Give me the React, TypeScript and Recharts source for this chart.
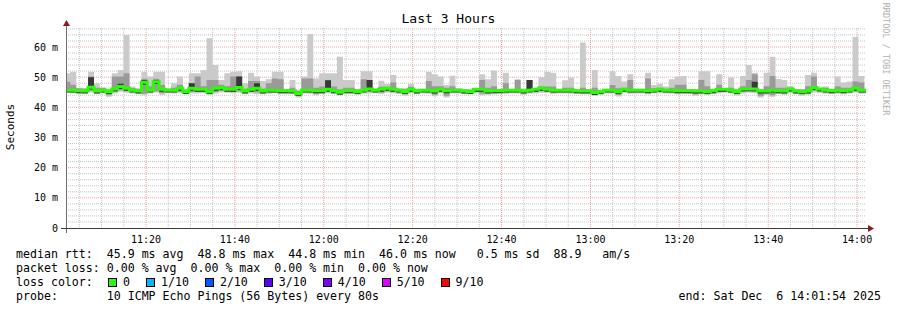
import React from 'react';
import { ComposedChart, Area, Line, XAxis, YAxis, CartesianGrid } from 'recharts';

const MONO = "'DejaVu Sans Mono', monospace";

// time axis, minutes after 11:00; one rrd step = 80 s
const T_START = 2;
const T_END = 182;
const FIRST_STEP = 1.63;
const STEP = 80 / 60;

// median rtt per step (ms)
const MEDIAN = [
  45.7, 45.7, 45.5, 45.4, 46.7, 45.4, 45.7, 45.2, 46.1, 46.9,
  46.3, 45.7, 45.4, 48.3, 45.7, 48.5, 46.0, 45.7, 45.7, 46.3,
  45.2, 46.3, 46.0, 46.0, 45.2, 46.3, 46.6, 46.0, 46.0, 46.6,
  45.4, 46.0, 46.3, 45.4, 45.7, 45.7, 45.5, 45.5, 45.4, 44.6,
  45.7, 45.7, 45.5, 45.5, 46.0, 45.5, 45.0, 45.5, 45.5, 45.2,
  45.7, 46.1, 45.7, 46.0, 46.3, 46.0, 45.7, 45.2, 46.0, 45.4,
  45.7, 45.7, 45.4, 46.0, 45.5, 45.7, 45.7, 45.4, 45.2, 46.0,
  46.0, 45.4, 45.5, 45.5, 45.7, 45.7, 45.7, 45.4, 45.7, 46.0,
  46.3, 46.0, 45.7, 45.7, 45.7, 45.7, 45.5, 45.4, 45.4, 44.9,
  45.2, 45.7, 45.7, 45.2, 46.0, 45.7, 45.7, 45.7, 45.5, 45.7,
  46.0, 45.7, 45.7, 45.5, 45.5, 45.5, 45.4, 45.4, 45.2, 45.5,
  46.0, 46.0, 45.7, 45.2, 46.1, 46.1, 46.1, 45.4, 45.4, 45.7,
  45.5, 45.4, 46.1, 45.4, 45.2, 45.4, 46.6, 46.1, 45.7, 45.5,
  45.7, 45.5, 45.7, 46.3, 45.7, 45.7,
];

// slowest ping of the step (top of the light smoke)
const HIGH = [
  51.3, 51.8, 46.5, 46.5, 51.8, 48.0, 46.7, 46.0, 51.3, 52.4,
  64.0, 46.9, 46.3, 51.8, 50.2, 51.8, 51.8, 46.3, 48.0, 50.2,
  46.0, 51.3, 51.3, 52.4, 62.9, 54.0, 49.1, 51.3, 51.8, 52.0,
  48.0, 51.5, 50.2, 48.7, 49.3, 51.8, 51.8, 46.0, 49.1, 45.7,
  50.2, 64.3, 49.6, 51.3, 51.3, 51.3, 56.8, 49.1, 49.1, 46.0,
  52.0, 52.0, 46.0, 48.8, 47.7, 50.7, 46.3, 46.3, 47.8, 46.0,
  46.0, 51.8, 51.0, 50.2, 47.4, 50.5, 46.3, 46.0, 46.0, 46.3,
  51.0, 49.3, 52.2, 46.0, 51.5, 46.0, 49.3, 46.0, 49.1, 46.0,
  50.0, 51.8, 51.5, 46.0, 49.0, 49.9, 46.0, 61.5, 46.0, 52.4,
  45.7, 46.0, 52.0, 50.4, 48.6, 51.0, 46.0, 46.0, 51.5, 47.4,
  47.8, 46.9, 49.3, 50.2, 50.4, 46.0, 46.0, 52.0, 52.0, 46.0,
  51.0, 46.0, 49.9, 46.0, 50.4, 54.0, 51.5, 46.0, 51.5, 56.8,
  49.4, 49.1, 47.1, 46.0, 46.0, 50.7, 51.5, 46.3, 46.9, 46.0,
  50.2, 48.2, 48.6, 63.3, 50.4, 46.0,
];

// top of the medium grey smoke
const MID = [
  48.5, 47.5, 46.3, 46.2, 50.2, 46.5, 46.4, 45.9, 50.2, 50.2,
  51.3, 46.4, 46.1, 49.5, 47.0, 49.5, 47.5, 46.2, 46.5, 47.5,
  45.9, 48.0, 50.2, 47.0, 49.1, 49.1, 47.5, 47.0, 50.2, 50.2,
  46.2, 48.7, 48.7, 46.2, 48.0, 49.6, 49.3, 45.9, 46.5, 45.5,
  49.6, 49.6, 46.5, 46.9, 49.1, 46.9, 46.0, 46.5, 46.5, 45.9,
  49.3, 49.1, 45.9, 46.8, 46.8, 48.2, 46.2, 46.0, 46.8, 45.9,
  45.9, 48.7, 47.0, 47.0, 46.5, 47.0, 46.2, 45.9, 45.8, 46.2,
  49.1, 46.5, 47.0, 46.0, 48.0, 46.0, 49.1, 45.9, 49.1, 46.0,
  47.0, 46.9, 46.9, 46.0, 46.5, 46.5, 45.9, 46.5, 45.9, 46.5,
  45.6, 45.9, 47.4, 46.3, 46.5, 49.1, 45.9, 45.9, 49.6, 46.3,
  46.5, 46.2, 46.5, 47.5, 47.5, 45.9, 45.9, 49.1, 47.0, 45.9,
  47.5, 46.2, 46.5, 45.9, 47.0, 49.1, 51.0, 45.9, 47.0, 50.4,
  46.5, 46.5, 46.6, 45.9, 45.9, 47.0, 50.2, 46.5, 46.5, 45.9,
  47.0, 46.5, 46.5, 48.6, 48.2, 46.0,
];

// top of the dark smoke block, 0 where there is none
const DARK = [
  0, 0, 0, 0, 50.0, 0, 0, 0, 0, 47.8,
  0, 0, 0, 49.1, 0, 49.1, 0, 0, 0, 0,
  0, 48.0, 0, 0, 0, 0, 0, 0, 0, 50.2,
  0, 0, 48.0, 0, 0, 0, 0, 0, 0, 0,
  0, 0, 0, 0, 49.0, 0, 0, 0, 0, 0,
  0, 49.1, 0, 0, 0, 0, 0, 0, 0, 0,
  0, 0, 0, 0, 0, 0, 0, 0, 0, 0,
  0, 0, 0, 0, 0, 0, 0, 0, 49.1, 0,
  0, 0, 0, 0, 0, 0, 0, 0, 0, 0,
  0, 0, 0, 0, 0, 0, 0, 0, 0, 0,
  0, 0, 0, 0, 0, 0, 0, 0, 0, 0,
  0, 0, 0, 0, 0, 0, 48.5, 0, 0, 0,
  0, 0, 0, 0, 0, 0, 0, 0, 0, 0,
  0, 0, 0, 0, 0, 0,
];

// fastest ping of the step (bottom of the smoke)
const LOW = [
  44.8, 44.6, 44.5, 44.6, 45.0, 44.3, 44.6, 43.5, 44.6, 45.2,
  44.8, 44.6, 44.3, 44.0, 44.6, 44.8, 44.2, 44.7, 44.6, 44.7,
  44.3, 44.6, 44.6, 44.7, 44.2, 44.6, 44.9, 44.8, 44.6, 44.8,
  44.3, 44.6, 44.4, 44.3, 44.5, 44.7, 44.4, 44.3, 44.6, 43.3,
  44.6, 44.5, 44.0, 44.4, 44.6, 44.5, 44.0, 44.6, 44.5, 44.2,
  44.6, 44.6, 44.7, 44.4, 44.8, 44.6, 44.4, 43.8, 44.6, 44.3,
  44.6, 44.5, 43.7, 44.7, 43.3, 44.6, 44.6, 44.3, 44.3, 44.7,
  44.0, 44.2, 44.3, 44.6, 44.4, 44.6, 44.6, 44.2, 44.6, 44.6,
  44.8, 44.8, 44.4, 44.6, 44.6, 44.5, 44.4, 44.3, 44.3, 43.8,
  44.2, 44.6, 44.6, 43.6, 44.8, 44.5, 44.6, 44.6, 44.3, 44.6,
  44.6, 44.6, 44.5, 44.3, 44.5, 44.4, 43.8, 44.3, 44.1, 44.4,
  44.6, 44.8, 44.6, 43.9, 44.6, 44.8, 44.7, 43.3, 44.2, 43.5,
  44.4, 44.2, 44.6, 44.3, 43.8, 44.2, 45.0, 44.7, 44.5, 44.4,
  44.5, 44.3, 44.6, 44.8, 44.5, 44.6,
];

const X_TICKS = [20, 40, 60, 80, 100, 120, 140, 160, 180];
const X_LABELS = ['11:20', '11:40', '12:00', '12:20', '12:40', '13:00', '13:20', '13:40', '14:00'];
const Y_TICKS = [0, 10, 20, 30, 40, 50, 60];
const Y_MAX = 66.3;

const LOSS_LABELS = ['0', '1/10', '2/10', '3/10', '4/10', '5/10', '9/10'];
const LOSS_COLORS = ['#26ff00', '#00b8ff', '#0059ff', '#5e00ff', '#7e00ff', '#dd00ff', '#ff0000'];

const minorY: number[] = [];
for (let v = 2; v < Y_MAX; v += 2) if (v % 10 !== 0) minorY.push(v);
const minorX: number[] = [];
for (let v = 5; v <= 180; v += 5) if (v % 20 !== 0) minorX.push(v);

const data = MEDIAN.map((m, i) => ({
  t: FIRST_STEP + i * STEP,
  light: [LOW[i], HIGH[i]],
  mid: [LOW[i] + 0.5, Math.max(MID[i], m)],
  dark: [m - 0.8, Math.max(DARK[i], m)],
  median: m,
}));
// close the last step
data.push({ ...data[data.length - 1], t: FIRST_STEP + data.length * STEP });

const textStyle: React.CSSProperties = {
  position: 'absolute',
  fontFamily: MONO,
  fontSize: 11.6,
  lineHeight: '14px',
  whiteSpace: 'pre',
  color: '#000',
};

export default function App() {
  return (
    <div style={{ position: 'fixed', left: 0, top: 0, width: 897, height: 310, background: '#fff', overflow: 'hidden' }}>
      <ComposedChart width={897} height={310} data={data} margin={{ top: 28, right: 31, bottom: 62, left: 6 }}>
        <CartesianGrid horizontalValues={minorY} verticalValues={minorX} stroke="#c4c4c4" strokeDasharray="1 1" />
        <CartesianGrid horizontalValues={[10, 20, 30, 40, 50, 60]} verticalValues={X_TICKS} stroke="#f2a0a0" strokeDasharray="1 1" />
        <XAxis
          dataKey="t"
          type="number"
          domain={[T_START, T_END]}
          allowDataOverflow
          ticks={X_TICKS}
          interval={0}
          tickFormatter={(v) => X_LABELS[X_TICKS.indexOf(v)]}
          axisLine={false}
          tickLine={false}
          height={20}
          tick={{ fill: '#000', fontSize: 10, fontFamily: MONO }}
        />
        <YAxis
          type="number"
          domain={[0, Y_MAX]}
          allowDataOverflow
          ticks={Y_TICKS}
          interval={0}
          tickFormatter={(v) => (v === 0 ? '0' : `${v} m`)}
          axisLine={false}
          tickLine={false}
          width={60}
          tick={{ fill: '#000', fontSize: 10, fontFamily: MONO }}
        />
        <Area dataKey="light" type="stepAfter" stroke="none" fill="#cacaca" fillOpacity={1} isAnimationActive={false} />
        <Area dataKey="mid" type="stepAfter" stroke="none" fill="#9a9a9a" fillOpacity={1} isAnimationActive={false} />
        <Area dataKey="dark" type="stepAfter" stroke="none" fill="#383838" fillOpacity={1} isAnimationActive={false} />
        <Line dataKey="median" type="stepAfter" stroke="#26ff00" strokeWidth={3} dot={false} isAnimationActive={false} />
      </ComposedChart>

      <svg width={897} height={310} style={{ position: 'absolute', left: 0, top: 0, pointerEvents: 'none' }}>
        <line x1={66.5} y1={233} x2={66.5} y2={25} stroke="#6e6e6e" strokeWidth={1} />
        <line x1={61} y1={228.5} x2={869} y2={228.5} stroke="#3c3c3c" strokeWidth={1} />
        <polygon points="63,26 70,26 66.5,20" fill="#8b1c1c" />
        <polygon points="868,225 868,232 874,228.5" fill="#8b1c1c" />
      </svg>

      <div style={{ ...textStyle, fontSize: 13, left: 0, width: 897, top: 12, textAlign: 'center' }}>Last 3 Hours</div>
      <div style={{ ...textStyle, fontSize: 11, left: 11, top: 127, transform: 'translate(-50%, -50%) rotate(-90deg)' }}>Seconds</div>
      <div style={{ ...textStyle, fontSize: 8.5, color: '#b0b0b0', left: 886, top: 59, transform: 'translate(-50%, -50%) rotate(90deg)' }}>
        RRDTOOL / TOBI OETIKER
      </div>

      <div style={{ ...textStyle, left: 16, top: 247 }}>
        {'median rtt:  45.9 ms avg  48.8 ms max  44.8 ms min  46.0 ms now   0.5 ms sd  88.9   am/s'}
      </div>
      <div style={{ ...textStyle, left: 16, top: 261 }}>
        {'packet loss: 0.00 % avg  0.00 % max  0.00 % min  0.00 % now'}
      </div>
      <div style={{ ...textStyle, left: 16, top: 275, display: 'flex', alignItems: 'center' }}>
        <span style={{ width: 92 }}>{'loss color:'}</span>
        {LOSS_LABELS.map((lab, i) => (
          <span key={lab} style={{ display: 'inline-flex', alignItems: 'center', marginRight: 16 }}>
            <span style={{ width: 9, height: 9, boxSizing: 'border-box', border: '1px solid #000', background: LOSS_COLORS[i], display: 'inline-block' }} />
            <span style={{ marginLeft: 6 }}>{lab}</span>
          </span>
        ))}
      </div>
      <div style={{ ...textStyle, left: 16, top: 289 }}>
        {'probe:       10 ICMP Echo Pings (56 Bytes) every 80s'}
      </div>
      <div style={{ ...textStyle, right: 16, top: 289 }}>
        {'end: Sat Dec  6 14:01:54 2025'}
      </div>
    </div>
  );
}
